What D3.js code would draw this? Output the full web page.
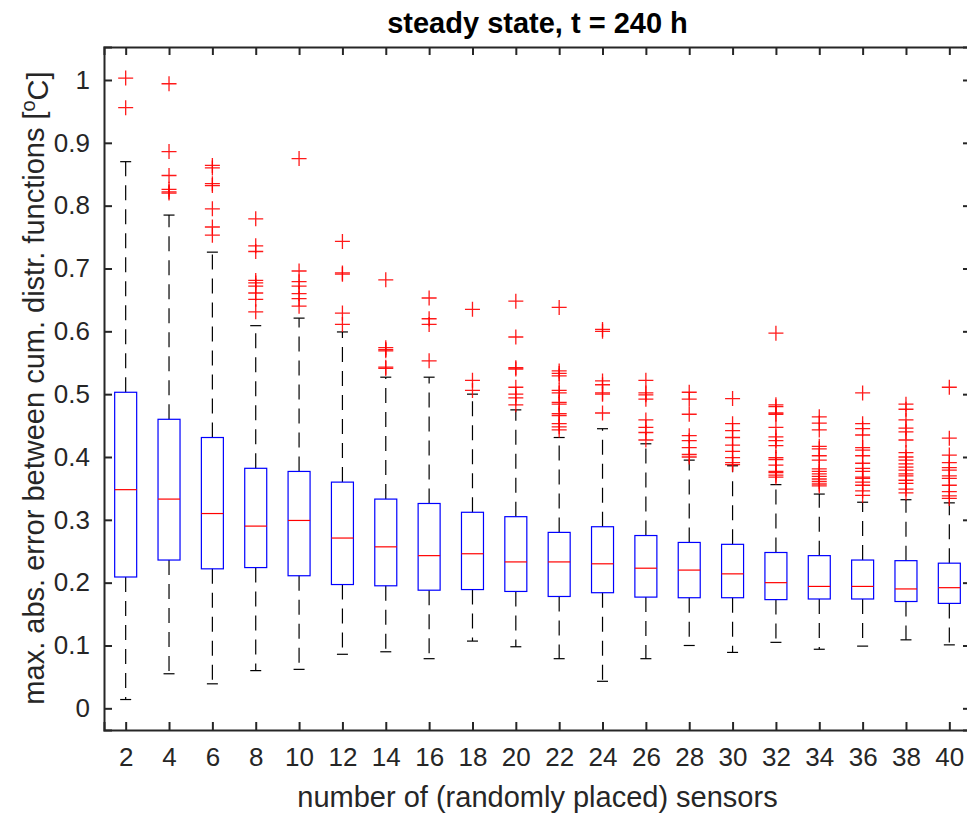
<!DOCTYPE html>
<html>
<head>
<meta charset="utf-8">
<script src="https://cdn.jsdelivr.net/npm/d3@7"></script>
<style>
  body { margin: 0; background: #fff; }
  svg { display: block; font-family: "Liberation Sans", Arial, Helvetica, sans-serif; }
</style>
</head>
<body>
<svg width="967" height="813"></svg>
<script>
var sensors = [2, 4, 6, 8, 10, 12, 14, 16, 18, 20, 22, 24, 26, 28, 30, 32, 34, 36, 38, 40];

var whiskerLo = [0.014, 0.055, 0.039, 0.060, 0.062, 0.086, 0.090, 0.079, 0.107, 0.098,
                 0.079, 0.043, 0.079, 0.100, 0.089, 0.105, 0.094, 0.099, 0.109, 0.101];
var q1 = [0.209, 0.236, 0.222, 0.224, 0.211, 0.197, 0.195, 0.188, 0.189, 0.186,
          0.178, 0.184, 0.177, 0.176, 0.176, 0.173, 0.174, 0.174, 0.170, 0.167];
var medians = [0.348, 0.333, 0.310, 0.290, 0.299, 0.271, 0.257, 0.243, 0.246, 0.233,
               0.233, 0.230, 0.223, 0.220, 0.214, 0.200, 0.194, 0.194, 0.190, 0.192];
var q3 = [0.503, 0.460, 0.431, 0.382, 0.377, 0.360, 0.333, 0.326, 0.312, 0.305,
          0.280, 0.289, 0.275, 0.264, 0.261, 0.248, 0.243, 0.236, 0.235, 0.231];
var whiskerHi = [0.870, 0.785, 0.726, 0.609, 0.621, 0.599, 0.527, 0.527, 0.500, 0.475,
                 0.431, 0.445, 0.421, 0.395, 0.386, 0.356, 0.341, 0.328, 0.332, 0.327];

var outliers = [
  [1.003, 0.956],
  [0.994, 0.886, 0.848, 0.826, 0.822, 0.820],
  [0.864, 0.860, 0.835, 0.832, 0.795, 0.766, 0.753],
  [0.779, 0.736, 0.727, 0.681, 0.677, 0.672, 0.661, 0.651, 0.631],
  [0.875, 0.696, 0.679, 0.672, 0.660, 0.652, 0.640],
  [0.743, 0.693, 0.691, 0.629, 0.611],
  [0.682, 0.574, 0.571, 0.569, 0.543, 0.541],
  [0.653, 0.620, 0.611, 0.553],
  [0.635, 0.522, 0.506],
  [0.648, 0.591, 0.542, 0.540, 0.511, 0.500, 0.494, 0.483],
  [0.638, 0.537, 0.533, 0.529, 0.506, 0.502, 0.487, 0.484, 0.469, 0.466, 0.453, 0.448, 0.443],
  [0.603, 0.600, 0.521, 0.515, 0.502, 0.500, 0.470],
  [0.522, 0.502, 0.499, 0.492, 0.459, 0.447, 0.439, 0.427],
  [0.503, 0.492, 0.468, 0.434, 0.426, 0.415, 0.404, 0.400],
  [0.493, 0.453, 0.442, 0.431, 0.419, 0.409, 0.399, 0.391, 0.388],
  [0.597, 0.483, 0.480, 0.470, 0.468, 0.447, 0.432, 0.426, 0.418, 0.399, 0.396, 0.387, 0.377, 0.375, 0.371, 0.368],
  [0.464, 0.454, 0.443, 0.417, 0.413, 0.402, 0.395, 0.381, 0.377, 0.373, 0.369, 0.365, 0.361, 0.357, 0.354],
  [0.502, 0.453, 0.445, 0.435, 0.415, 0.411, 0.402, 0.390, 0.382, 0.377, 0.368, 0.366, 0.360, 0.355, 0.346, 0.339],
  [0.484, 0.476, 0.459, 0.446, 0.440, 0.427, 0.407, 0.400, 0.395, 0.389, 0.384, 0.379, 0.373, 0.370, 0.363, 0.358, 0.349, 0.343],
  [0.511, 0.430, 0.403, 0.391, 0.383, 0.379, 0.370, 0.366, 0.355, 0.345, 0.338, 0.334]
];

var yTicks = [0, 0.1, 0.2, 0.3, 0.4, 0.5, 0.6, 0.7, 0.8, 0.9, 1];

var titleText = "steady state, t = 240 h";
var xLabelText = "number of (randomly placed) sensors";

function boxPlot() {
  var svg = d3.select("svg");

  var left = 104, right = 971, top = 47, bottom = 730;
  var boxW = 22, capW = 11, plusSize = 15;
  var axisColor = "#262626";

  var data = sensors.map(function(s, i) {
    return {
      idx: i + 1,
      label: s,
      lo: whiskerLo[i],
      q1: q1[i],
      med: medians[i],
      q3: q3[i],
      hi: whiskerHi[i],
      out: outliers[i]
    };
  });

  var xScale = d3.scaleLinear()
                 .domain([0.5, sensors.length + 0.5])
                 .range([left, right]);

  var yScale = d3.scaleLinear()
                 .domain([-0.0345, 1.0525])
                 .range([bottom, top]);

  var plot = svg.append("g");

  var groups = plot.selectAll("g.box")
    .data(data)
    .enter()
    .append("g")
      .attr("class", "box");

  // dashed whiskers, drawn from the box outwards
  groups.append("line")
      .attr("x1", d => xScale(d.idx))
      .attr("x2", d => xScale(d.idx))
      .attr("y1", d => yScale(d.q3))
      .attr("y2", d => yScale(d.hi))
      .attr("stroke", "#000")
      .attr("stroke-width", 1.2)
      .attr("stroke-dasharray", "15,9");

  groups.append("line")
      .attr("x1", d => xScale(d.idx))
      .attr("x2", d => xScale(d.idx))
      .attr("y1", d => yScale(d.q1))
      .attr("y2", d => yScale(d.lo))
      .attr("stroke", "#000")
      .attr("stroke-width", 1.2)
      .attr("stroke-dasharray", "15,9");

  // caps
  ["hi", "lo"].forEach(function(k) {
    groups.append("line")
        .attr("x1", d => xScale(d.idx) - capW / 2)
        .attr("x2", d => xScale(d.idx) + capW / 2)
        .attr("y1", d => yScale(d[k]))
        .attr("y2", d => yScale(d[k]))
        .attr("stroke", "#000")
        .attr("stroke-width", 1.2);
  });

  groups.append("rect")
      .attr("x", d => xScale(d.idx) - boxW / 2)
      .attr("y", d => yScale(d.q3))
      .attr("width", boxW)
      .attr("height", d => yScale(d.q1) - yScale(d.q3))
      .attr("fill", "none")
      .attr("stroke", "#0000ff")
      .attr("stroke-width", 1.2);

  groups.append("line")
      .attr("x1", d => xScale(d.idx) - boxW / 2)
      .attr("x2", d => xScale(d.idx) + boxW / 2)
      .attr("y1", d => yScale(d.med))
      .attr("y2", d => yScale(d.med))
      .attr("stroke", "#ff0000")
      .attr("stroke-width", 1.2);

  // outliers as red plus markers
  groups.selectAll("path.out")
    .data(d => d.out.map(v => ({ idx: d.idx, v: v })))
    .enter()
    .append("path")
      .attr("class", "out")
      .attr("d", function(o) {
        var cx = xScale(o.idx), cy = yScale(o.v), h = plusSize / 2;
        return "M" + (cx - h) + "," + cy + "H" + (cx + h) +
               "M" + cx + "," + (cy - h) + "V" + (cy + h);
      })
      .attr("stroke", "#ff0000")
      .attr("stroke-width", 1.3)
      .attr("fill", "none")
      .attr("opacity", 0.9);

  // axes (MATLAB style: box on, ticks inside)
  var xAxis = d3.axisBottom(xScale)
                .tickValues(data.map(d => d.idx))
                .tickFormat((d, i) => sensors[i])
                .tickSize(-8)
                .tickPadding(18);

  var yAxis = d3.axisLeft(yScale)
                .tickValues(yTicks)
                .tickFormat(d3.format("~g"))
                .tickSize(-8)
                .tickPadding(14);

  svg.append("g")
      .attr("transform", "translate(0," + bottom + ")")
      .call(xAxis);

  svg.append("g")
      .attr("transform", "translate(" + left + ",0)")
      .call(yAxis);

  svg.append("g")
      .attr("transform", "translate(0," + top + ")")
      .call(d3.axisTop(xScale).tickValues(data.map(d => d.idx)).tickFormat("").tickSize(-8));

  svg.append("g")
      .attr("transform", "translate(" + right + ",0)")
      .call(d3.axisRight(yScale).tickValues(yTicks).tickFormat("").tickSize(-8));

  svg.selectAll(".domain")
      .attr("stroke", axisColor)
      .attr("stroke-width", 2);
  svg.selectAll(".tick line")
      .attr("stroke", axisColor)
      .attr("stroke-width", 2);
  svg.selectAll(".tick text")
      .attr("fill", axisColor)
      .style("font-size", "26px")
      .style("font-family", "'Liberation Sans', Arial, sans-serif");

  svg.append("text")
      .text(titleText)
      .attr("x", (left + right) / 2)
      .attr("y", 33)
      .attr("text-anchor", "middle")
      .style("font-size", "29px")
      .style("font-weight", "bold")
      .attr("fill", "#000");

  svg.append("text")
      .text(xLabelText)
      .attr("x", (left + right) / 2)
      .attr("y", 807)
      .attr("text-anchor", "middle")
      .style("font-size", "29px")
      .attr("fill", axisColor);

  var yl = svg.append("text")
      .attr("transform", "translate(44," + 388 + ") rotate(-90)")
      .attr("text-anchor", "middle")
      .style("font-size", "29px")
      .attr("fill", axisColor);
  yl.append("tspan").text("max. abs. error between cum. distr. functions [");
  yl.append("tspan").text("o").attr("dy", "-0.45em").style("font-size", "20px");
  yl.append("tspan").text("C]").attr("dy", "0.45em");
}

boxPlot();
</script>
</body>
</html>
